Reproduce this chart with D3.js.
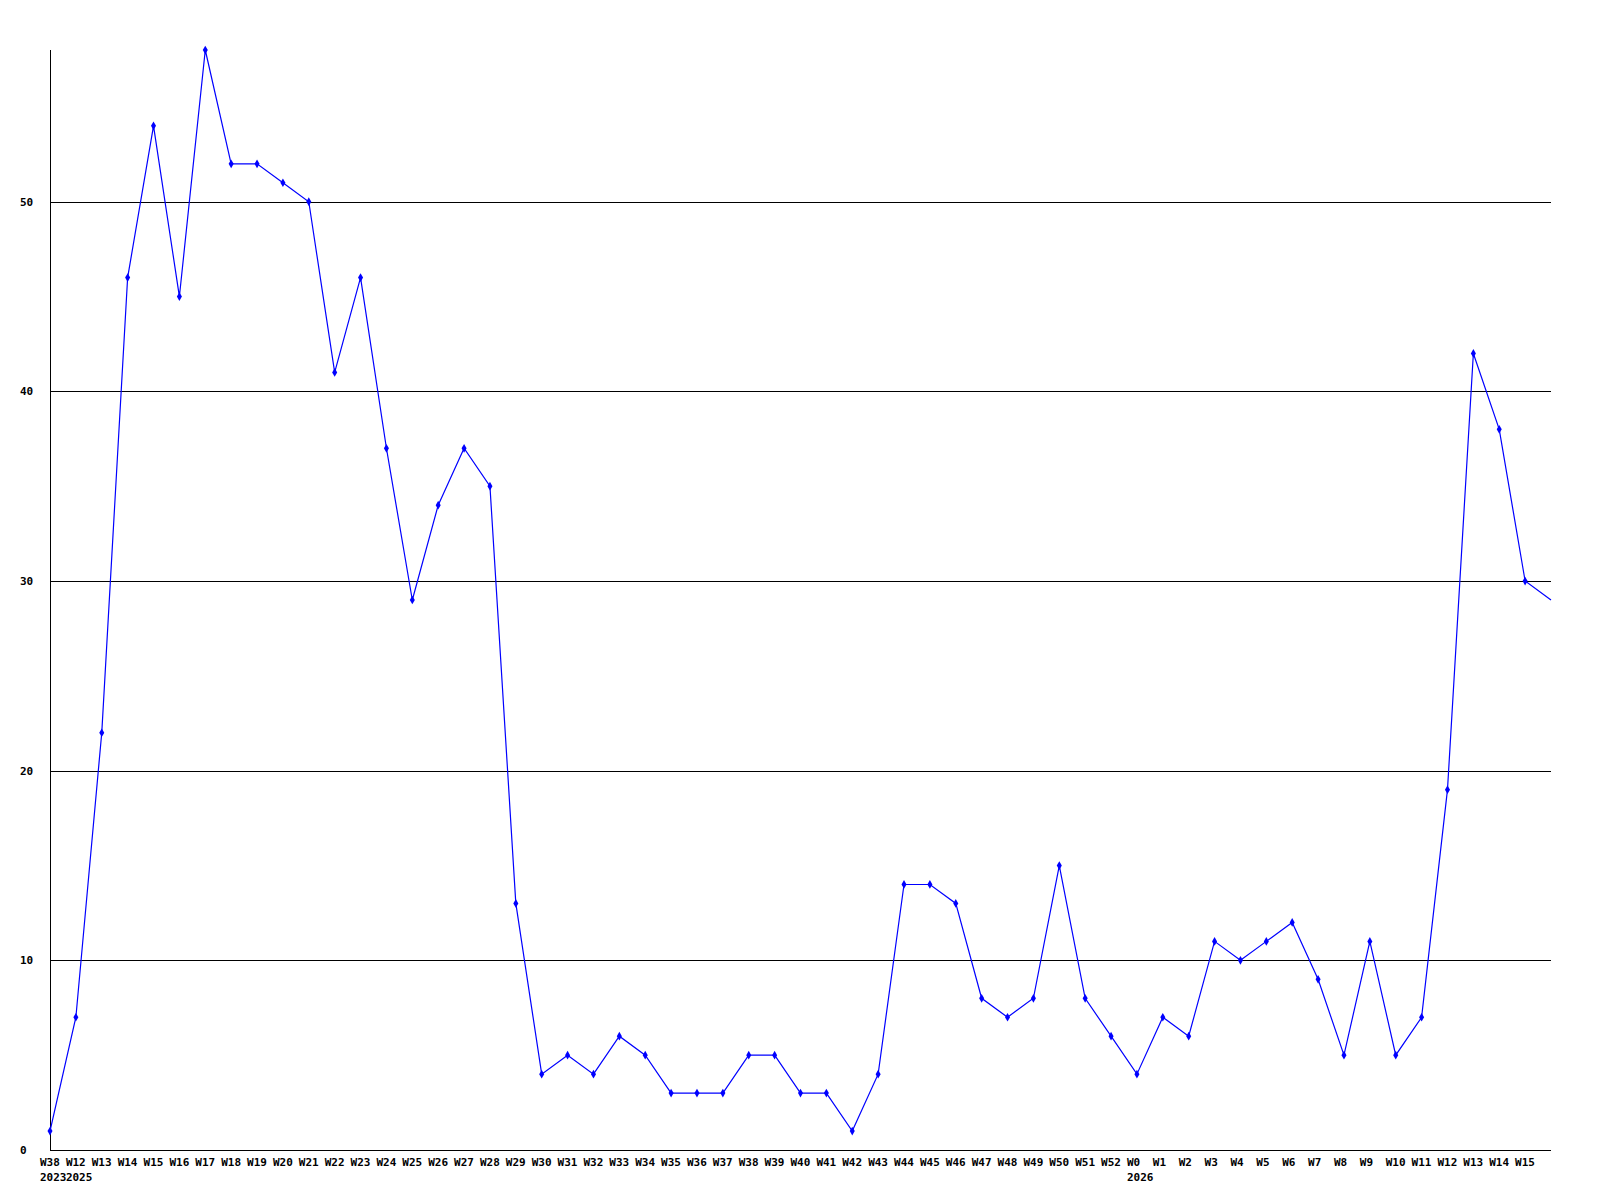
<!DOCTYPE html>
<html>
<head>
<meta charset="utf-8">
<script src="https://cdn.jsdelivr.net/npm/d3@7"></script>
<style>
  body { margin: 0; background: #fff; }
  svg text { font-family: "DejaVu Sans Mono", "Liberation Mono", monospace; font-size: 11px; font-weight: bold; fill: #000; }
</style>
</head>
<body>
<div id="chart"></div>
<script>
// week labels, one per point (the last point runs off the chart with no label)
var weekLabels = ['W38', 'W12', 'W13', 'W14', 'W15', 'W16', 'W17', 'W18', 'W19', 'W20', 'W21', 'W22', 'W23', 'W24',
  'W25', 'W26', 'W27', 'W28', 'W29', 'W30', 'W31', 'W32', 'W33', 'W34', 'W35', 'W36', 'W37', 'W38', 'W39', 'W40',
  'W41', 'W42', 'W43', 'W44', 'W45', 'W46', 'W47', 'W48', 'W49', 'W50', 'W51', 'W52',
  'W0', 'W1', 'W2', 'W3', 'W4', 'W5', 'W6', 'W7', 'W8', 'W9', 'W10', 'W11', 'W12', 'W13', 'W14', 'W15'];

// year shown under the first week of each year
var yearLabels = [[0, '2023'], [1, '2025'], [42, '2026']];

var counts = [1, 7, 22, 46, 54, 45, 58, 52, 52, 51, 50, 41, 46, 37,
  29, 34, 37, 35, 13, 4, 5, 4, 6, 5, 3, 3, 3, 5, 5, 3,
  3, 1, 4, 14, 14, 13, 8, 7, 8, 15, 8, 6,
  4, 7, 6, 11, 10, 11, 12, 9, 5, 11, 5, 7, 19, 42, 38, 30, 29];

var yTicks = [0, 10, 20, 30, 40, 50];

const LEFT = 50, RIGHT = 1551, TOP = 50, BOTTOM = 1150;

var svg = d3.select('#chart')
  .append('svg')
  .attr('width', 1600)
  .attr('height', 1200);

var x = d3.scaleLinear().domain([0, weekLabels.length]).range([LEFT, RIGHT]);
var y = d3.scaleLinear().domain([0, 58]).range([BOTTOM, TOP]);

// horizontal grid lines
svg.selectAll('line.grid')
  .data(yTicks.filter((d) => d > 0))
  .enter()
  .append('line')
  .attr('class', 'grid')
  .attr('x1', LEFT)
  .attr('x2', RIGHT)
  .attr('y1', (d) => Math.round(y(d)) + 0.5)
  .attr('y2', (d) => Math.round(y(d)) + 0.5)
  .attr('stroke', '#000')
  .attr('stroke-width', 1);

// axes
svg.append('line')
  .attr('x1', LEFT + 0.5).attr('x2', LEFT + 0.5)
  .attr('y1', TOP).attr('y2', BOTTOM)
  .attr('stroke', '#000');
svg.append('line')
  .attr('x1', LEFT).attr('x2', RIGHT)
  .attr('y1', BOTTOM + 0.5).attr('y2', BOTTOM + 0.5)
  .attr('stroke', '#000');

// y labels
svg.selectAll('text.ylab')
  .data(yTicks)
  .enter()
  .append('text')
  .attr('class', 'ylab')
  .attr('x', 20)
  .attr('y', (d) => y(d))
  .attr('dy', '0.35em')
  .text((d) => d);

// x labels (left edge sits 10px before the point)
svg.selectAll('text.xlab')
  .data(weekLabels)
  .enter()
  .append('text')
  .attr('class', 'xlab')
  .attr('x', (d, i) => x(i) - 10)
  .attr('y', 1166)
  .text((d) => d);

svg.selectAll('text.year')
  .data(yearLabels)
  .enter()
  .append('text')
  .attr('class', 'year')
  .attr('x', (d) => x(d[0]) - 10)
  .attr('y', 1181)
  .text((d) => d[1]);

// the series line
var line = d3.line()
  .x((d, i) => x(i))
  .y((d) => y(d));

svg.append('path')
  .datum(counts)
  .attr('d', line)
  .attr('fill', 'none')
  .attr('stroke', '#0000ff')
  .attr('stroke-width', 1.2);

// point markers (only the labelled weeks)
svg.selectAll('path.marker')
  .data(counts.slice(0, weekLabels.length))
  .enter()
  .append('path')
  .attr('class', 'marker')
  .attr('d', d3.symbol().type(d3.symbolDiamond).size(22))
  .attr('transform', (d, i) => `translate(${x(i)},${y(d)})`)
  .attr('fill', '#0000ff');
</script>
</body>
</html>
